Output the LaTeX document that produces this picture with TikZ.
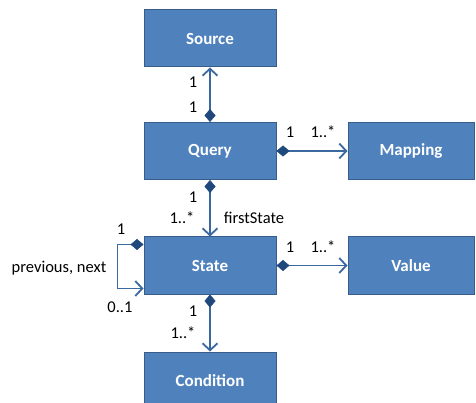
\documentclass[tikz,border=0pt]{standalone}
\usepackage{fontspec}
\setmainfont{Carlito}
\usetikzlibrary{arrows.meta}
\definecolor{boxfill}{HTML}{4F81BD}
\definecolor{boxline}{HTML}{385D8A}
\definecolor{linkcol}{HTML}{3A68A0}
\definecolor{diacol}{HTML}{1F497D}
\tikzset{
  cls/.style={draw=boxline, line width=1pt, fill=boxfill, minimum width=132pt, minimum height=57pt,
    inner sep=0pt, text=white, font=\fontsize{17}{20}\selectfont\bfseries},
  link/.style={draw=linkcol, line width=1.8pt,
    {Diamond[length=13pt,width=11pt,fill=diacol,color=diacol,line width=0.5pt]}-{Straight Barb[length=7pt,width=15pt,line width=1.8pt]}},
  lbl/.style={font=\fontsize{16.5}{19}\selectfont, text=black, inner sep=0pt}
}
\begin{document}
\begin{tikzpicture}[x=1pt,y=-1pt]
\useasboundingbox (0,0) rectangle (476,403);
\node[cls] (src) at (210,38.5) {Source};
\node[cls] (qry) at (210,151) {Query};
\node[cls, minimum width=126pt] (map) at (411,151) {Mapping};
\node[cls] (st) at (210,265.5) {State};
\node[cls, minimum width=126pt] (val) at (411,265.5) {Value};
\node[cls] (cnd) at (210,380.5) {Condition};
% associations
\draw[link] (qry.north) -- (src.south);
\draw[link] (qry.east) -- (map.west);
\draw[link] (qry.south) -- (st.north);
\draw[link] (st.east) -- (val.west);
\draw[link] (st.south) -- (cnd.north);
% self association of State
\coordinate (la) at ([yshift=-8pt]st.north west);
\coordinate (lb) at ([yshift=6pt]st.south west);
\draw[link] (la) -- ++(-26,0) |- (lb);
% multiplicities and roles
\node[lbl] at (193,82) {1};
\node[lbl] at (193,107) {1};
\node[lbl] at (290,132) {1};
\node[lbl] at (323,132) {1..*};
\node[lbl] at (193,197) {1};
\node[lbl] at (182,218) {1..*};
\node[lbl] at (254,218) {firstState};
\node[lbl] at (290,247) {1};
\node[lbl] at (323,247) {1..*};
\node[lbl] at (121,229) {1};
\node[lbl] at (59,268) {previous, next};
\node[lbl] at (120,307) {0..1};
\node[lbl] at (193,311) {1};
\node[lbl] at (183,333) {1..*};
\end{tikzpicture}
\end{document}
